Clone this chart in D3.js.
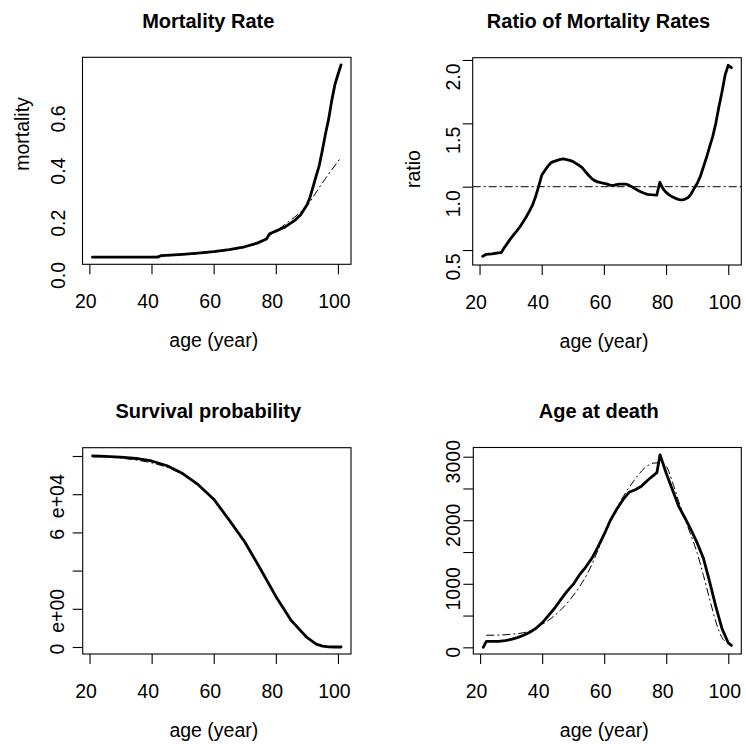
<!DOCTYPE html>
<html><head><meta charset="utf-8">
<script src="https://cdn.jsdelivr.net/npm/d3@7"></script>
<style>
html,body{margin:0;padding:0;background:#fff;}
text{font-family:"Liberation Sans",Arial,Helvetica,sans-serif;fill:#000;}
</style></head>
<body>
<svg id="chart" width="746" height="744"></svg>
<script>
// ---------- data ----------
const xTicks = [20, 40, 60, 80, 100];

// Panel 1: mortality rate (observed, solid) and fitted (dash-dot)
const mortAge = [21,30,42,43,46,50,55,60,65,70,74,77,78,80,83,86,88,90,91,92,93,94,95,96,97,98,99,100,101];
const mortObs = [0.005,0.005,0.005,0.011,0.013,0.016,0.021,0.026,0.034,0.045,0.059,0.075,0.095,0.105,0.121,0.145,0.168,0.205,0.234,0.275,0.317,0.357,0.416,0.478,0.534,0.605,0.665,0.705,0.742];
const mortFitAge = [21,40,50,60,70,75,78,80,82,84,86,88,90,92,94,96,98,100,101];
const mortFit = [0.005,0.008,0.014,0.025,0.044,0.063,0.088,0.105,0.122,0.140,0.158,0.178,0.200,0.235,0.272,0.307,0.340,0.372,0.388];
const mortTicks = [0.0, 0.2, 0.4, 0.6];
const mortTickLabels = ["0.0", "0.2", "0.4", "0.6"];

// Panel 2: ratio of mortality rates
const ratioAge = [21,22,23,24,25,26,27,28,29,30,31,32,33,34,35,36,37,38,39,40,41,42,43,44,45,46,47,48,49,50,51,52,53,54,55,56,57,58,59,60,61,62,63,64,65,66,67,68,69,70,71,72,73,74,75,76,77,78,79,80,81,82,83,84,85,86,87,88,89,90,91,92,93,94,95,96,97,98,99,100,101];
const ratio = [0.450,0.465,0.468,0.470,0.474,0.478,0.480,0.520,0.555,0.590,0.622,0.652,0.684,0.722,0.761,0.805,0.852,0.920,1.000,1.090,1.128,1.162,1.190,1.200,1.208,1.215,1.219,1.214,1.208,1.200,1.184,1.169,1.150,1.120,1.092,1.066,1.048,1.038,1.032,1.027,1.020,1.012,1.008,1.016,1.021,1.021,1.021,1.012,0.999,0.985,0.970,0.958,0.948,0.940,0.937,0.935,0.934,1.035,0.985,0.955,0.935,0.920,0.908,0.900,0.895,0.900,0.912,0.940,0.985,1.025,1.079,1.155,1.230,1.315,1.395,1.500,1.630,1.750,1.882,1.958,1.939];
const ratioRef = 1.0;
const ratioTicks = [0.5, 1.0, 1.5, 2.0];
const ratioTickLabels = ["0.5", "1.0", "1.5", "2.0"];

// Panel 3: survival
const survAge = [21,25,30,35,40,45,50,55,60,65,70,75,80,85,90,93,95,97,99,101];
const survObs = [100000,99800,99400,98700,97400,94900,90800,85000,77400,66400,55000,41000,26500,13800,5000,1500,450,80,0,0];
const survFit = [100000,99500,98900,97900,96400,94000,90300,84700,77000,66600,55000,41200,26800,14000,5000,1800,700,150,20,5];
const survTicks = [0, 20000, 40000, 60000, 80000, 100000];
const survLabelValues = [0, 20000, 60000, 80000];
const survTickLabels = ["0", "e+00", "6", "e+04"];

// Panel 4: age at death
const deathAge = [21,22,23,26,28,30,32,34,36,38,40,42,44,46,48,50,52,54,56,58,60,62,64,66,68,70,72,74,76,77,78,80,82,84,86,88,90,92,94,96,98,100,101];
const deathObs = [0,94,94,94,105,125,152,190,236,300,385,500,615,750,880,990,1140,1260,1400,1580,1780,2000,2170,2320,2440,2480,2535,2630,2710,2750,3030,2740,2480,2220,2040,1850,1640,1400,1030,640,290,70,30];
const deathFitAge = [22,25,28,31,34,37,40,43,46,49,52,55,58,61,64,67,70,73,76,78,80,82,84,86,88,90,92,94,96,98,100,101];
const deathFit = [190,192,198,210,230,275,360,460,590,750,950,1200,1530,1880,2190,2440,2650,2820,2900,2905,2850,2600,2300,2020,1760,1480,1130,760,400,150,70,55];
const deathTicks = [0, 500, 1000, 1500, 2000, 2500, 3000];
const deathLabelValues = [0, 1000, 2000, 3000];

// ---------- drawing ----------
const svg = d3.select("#chart");
const FS = 19.5;
const dashPat = "8,3,2,3";

function panel(cfg) {
  const g = svg.append("g");
  const x = d3.scaleLinear().domain([17.8, 104.2]).range([cfg.left, cfg.right]);
  const y = d3.scaleLinear().domain(cfg.ydom).range([cfg.bottom, cfg.top]);
  const cx = (cfg.left + cfg.right) / 2;

  // clip
  const cid = "clip" + cfg.id;
  svg.append("clipPath").attr("id", cid).append("rect")
    .attr("x", cfg.left).attr("y", cfg.top)
    .attr("width", cfg.right - cfg.left).attr("height", cfg.bottom - cfg.top);
  const plot = g.append("g").attr("clip-path", `url(#${cid})`);

  cfg.draw(plot, x, y);

  // box
  g.append("rect").attr("x", cfg.left).attr("y", cfg.top)
    .attr("width", cfg.right - cfg.left).attr("height", cfg.bottom - cfg.top)
    .attr("fill", "none").attr("stroke", "#000").attr("stroke-width", 1.1);

  // x axis ticks via d3 axis
  const xa = d3.axisBottom(x).tickValues(xTicks).tickSize(10).tickFormat("");
  const xg = g.append("g").attr("transform", `translate(0,${cfg.bottom})`).call(xa);
  xg.select(".domain").remove();
  xg.selectAll("line").attr("stroke", "#000").attr("stroke-width", 1.1);
  g.selectAll(null).data(xTicks).enter().append("text")
    .attr("x", d => x(d) - 3.5).attr("y", cfg.bottom + 37)
    .attr("text-anchor", "middle").attr("dominant-baseline", "central")
    .attr("font-size", FS).text(d => d);

  // y ticks
  if (cfg.yTicks) {
    const ya = d3.axisLeft(y).tickValues(cfg.yTicks).tickSize(10).tickFormat("");
    const yg = g.append("g").attr("transform", `translate(${cfg.left},0)`).call(ya);
    yg.select(".domain").remove();
    yg.selectAll("line").attr("stroke", "#000").attr("stroke-width", 1.1);
  }
  // y labels (rotated)
  cfg.yLabelVals.forEach((v, i) => {
    const ly = y(v) + cfg.labelShift;
    const lx = cfg.left - cfg.labelGap;
    g.append("text").attr("transform", `translate(${lx},${ly}) rotate(-90)`)
      .attr("text-anchor", "middle").attr("dominant-baseline", "central")
      .attr("font-size", FS).text(cfg.yLabelText[i]);
  });

  // titles
  g.append("text").attr("x", cx - 8.5).attr("y", cfg.top - 36.8)
    .attr("text-anchor", "middle").attr("dominant-baseline", "central")
    .attr("font-size", 20).attr("font-weight", "bold").text(cfg.title);
  g.append("text").attr("x", cx - 3).attr("y", cfg.bottom + 76)
    .attr("text-anchor", "middle").attr("dominant-baseline", "central")
    .attr("font-size", FS).text("age (year)");
  if (cfg.ytitle) {
    g.append("text").attr("transform", `translate(${cfg.ytitle.x},${cfg.ytitle.y}) rotate(-90)`)
      .attr("text-anchor", "middle").attr("dominant-baseline", "central")
      .attr("font-size", FS).text(cfg.ytitle.text);
  }
}

function solidLine(plot, x, y, ages, vals) {
  plot.append("path").datum(ages.map((a, i) => [a, vals[i]]))
    .attr("d", d3.line().x(d => x(d[0])).y(d => y(d[1])))
    .attr("fill", "none").attr("stroke", "#000").attr("stroke-width", 2.8)
    .attr("stroke-linejoin", "round").attr("stroke-linecap", "round");
}
function dashLine(plot, x, y, ages, vals) {
  plot.append("path").datum(ages.map((a, i) => [a, vals[i]]))
    .attr("d", d3.line().x(d => x(d[0])).y(d => y(d[1])).curve(d3.curveMonotoneX))
    .attr("fill", "none").attr("stroke", "#000").attr("stroke-width", 1)
    .attr("stroke-dasharray", dashPat);
}

panel({
  id: 1, left: 82.5, right: 351, top: 57.3, bottom: 264.3,
  ydom: [-0.0222, 0.771], title: "Mortality Rate",
  yTicks: null, yLabelVals: mortTicks, yLabelText: mortTickLabels,
  labelShift: 17, labelGap: 24.5,
  ytitle: { x: 22, y: 134, text: "mortality" },
  draw: (p, x, y) => {
    dashLine(p, x, y, mortFitAge, mortFit);
    solidLine(p, x, y, mortAge, mortObs);
  }
});

panel({
  id: 2, left: 472.7, right: 741.3, top: 57.7, bottom: 265,
  ydom: [0.382, 2.018], title: "Ratio of Mortality Rates",
  yTicks: ratioTicks, yLabelVals: ratioTicks, yLabelText: ratioTickLabels,
  labelShift: 17, labelGap: 20,
  ytitle: { x: 413, y: 169, text: "ratio" },
  draw: (p, x, y) => {
    p.append("line").attr("x1", x.range()[0]).attr("x2", x.range()[1])
      .attr("y1", y(ratioRef)).attr("y2", y(ratioRef))
      .attr("stroke", "#000").attr("stroke-width", 1).attr("stroke-dasharray", dashPat);
    solidLine(p, x, y, ratioAge, ratio);
  }
});

panel({
  id: 3, left: 82.7, right: 351, top: 447.7, bottom: 654,
  ydom: [-3665, 104346], title: "Survival probability",
  yTicks: survTicks, yLabelVals: survLabelValues, yLabelText: survTickLabels,
  labelShift: 2, labelGap: 26,
  ytitle: null,
  draw: (p, x, y) => {
    dashLine(p, x, y, survAge, survFit);
    solidLine(p, x, y, survAge, survObs);
  }
});

panel({
  id: 4, left: 473.3, right: 741.3, top: 447.5, bottom: 654,
  ydom: [-105, 3145], title: "Age at death",
  yTicks: deathTicks, yLabelVals: deathLabelValues, yLabelText: deathLabelValues.map(String),
  labelShift: 5, labelGap: 20.3,
  ytitle: null,
  draw: (p, x, y) => {
    dashLine(p, x, y, deathFitAge, deathFit);
    solidLine(p, x, y, deathAge, deathObs);
  }
});
</script>
</body></html>
